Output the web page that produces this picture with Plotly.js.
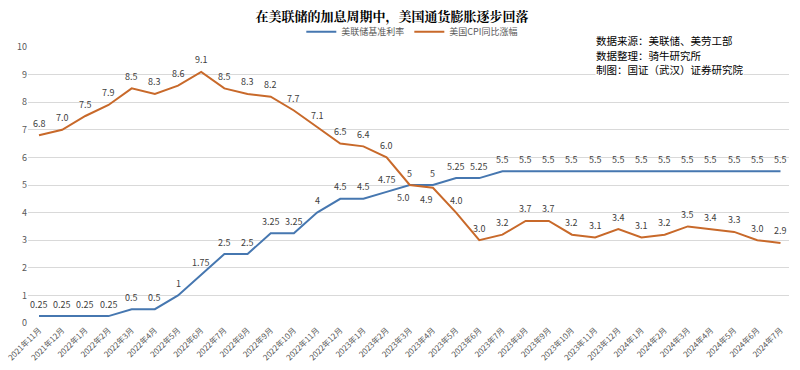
<!DOCTYPE html>
<html><head><meta charset="utf-8">
<script src="https://cdn.plot.ly/plotly-3.0.1.min.js"></script>
<style>html,body{margin:0;padding:0;background:#fff}#c{width:800px;height:370px;outline:1px solid #d0d0d0;outline-offset:-1px}</style>
</head><body><div id="c"></div>
<script>
const months = ["2021年11月","2021年12月","2022年1月","2022年2月","2022年3月","2022年4月","2022年5月","2022年6月","2022年7月","2022年8月","2022年9月","2022年10月","2022年11月","2022年12月","2023年1月","2023年2月","2023年3月","2023年4月","2023年5月","2023年6月","2023年7月","2023年8月","2023年9月","2023年10月","2023年11月","2023年12月","2024年1月","2024年2月","2024年3月","2024年4月","2024年5月","2024年6月","2024年7月"];
const fedRate = [0.25,0.25,0.25,0.25,0.5,0.5,1,1.75,2.5,2.5,3.25,3.25,4,4.5,4.5,4.75,5,5,5.25,5.25,5.5,5.5,5.5,5.5,5.5,5.5,5.5,5.5,5.5,5.5,5.5,5.5,5.5];
const cpi = [6.8,7.0,7.5,7.9,8.5,8.3,8.6,9.1,8.5,8.3,8.2,7.7,7.1,6.5,6.4,6.0,5.0,4.9,4.0,3.0,3.2,3.7,3.7,3.2,3.1,3.4,3.1,3.2,3.5,3.4,3.3,3.0,2.9];
const belowCpi = ["2023年3月","2023年4月"];
const noteLines = ["数据来源：美联储、美劳工部","数据整理：骑牛研究所","制图：国证（武汉）证券研究院"];

const font = "'Microsoft YaHei','Noto Sans CJK SC','Noto Sans',sans-serif";

const traces = [
  {x: months, y: fedRate, name: "美联储基准利率", type: "scatter", mode: "lines",
   line: {color: "#4677B0", width: 2}},
  {x: months, y: cpi, name: "美国CPI同比涨幅", type: "scatter", mode: "lines",
   line: {color: "#C8692A", width: 2}}
];

const lab = (m, v, txt, below) => ({
  x: m, y: v, xref: "x", yref: "y", text: txt, showarrow: false,
  xanchor: "center", yanchor: "middle", yshift: below ? -12 : 12, xshift: below ? -6 : 0,
  font: {size: 9, color: "#404040", family: font}
});
const rateAnns = months.map((m, i) => lab(m, fedRate[i], String(fedRate[i]), false));
const cpiAnns = months.map((m, i) => lab(m, cpi[i], cpi[i].toFixed(1), belowCpi.includes(m)));

const plotH = 370 - 47 - 47;
const noteY = [41, 55, 69];
const noteAnns = noteLines.map((t, i) => ({
  xref: "paper", yref: "paper", x: 0.745, y: (323 - noteY[i]) / plotH,
  xanchor: "left", yanchor: "middle", align: "left", showarrow: false, bgcolor: "#fff", borderpad: 0,
  text: t, font: {size: 10.5, color: "#000", family: font}
}));

const layout = {
  width: 800, height: 370,
  margin: {l: 28, r: 11, t: 47, b: 47},
  paper_bgcolor: "#fff", plot_bgcolor: "#fff",
  font: {family: font, color: "#595959"},
  title: {text: "<b>在美联储的加息周期中，美国通货膨胀逐步回落</b>", x: 0.49, xanchor: "center", y: 0.955, yanchor: "middle",
          font: {size: 13, color: "#000", family: "'Noto Serif CJK SC','Noto Sans CJK SC',serif"}},
  showlegend: true,
  legend: {orientation: "h", x: 0.505, xanchor: "center", y: 1.055, yanchor: "middle",
           font: {size: 9, color: "#595959"}, itemwidth: 30, bgcolor: "rgba(0,0,0,0)"},
  xaxis: {type: "category", tickangle: -45, tickfont: {size: 8, color: "#595959"},
          showgrid: false, showline: false, ticks: "", zeroline: false, automargin: false},
  yaxis: {range: [0, 10], dtick: 1, tickfont: {size: 9, color: "#595959"}, gridcolor: "#d9d9d9",
          zeroline: false, showline: false, ticks: "", automargin: false},
  annotations: rateAnns.concat(cpiAnns, noteAnns)
};
Plotly.newPlot("c", traces, layout, {displayModeBar: false, responsive: false});
</script></body></html>
